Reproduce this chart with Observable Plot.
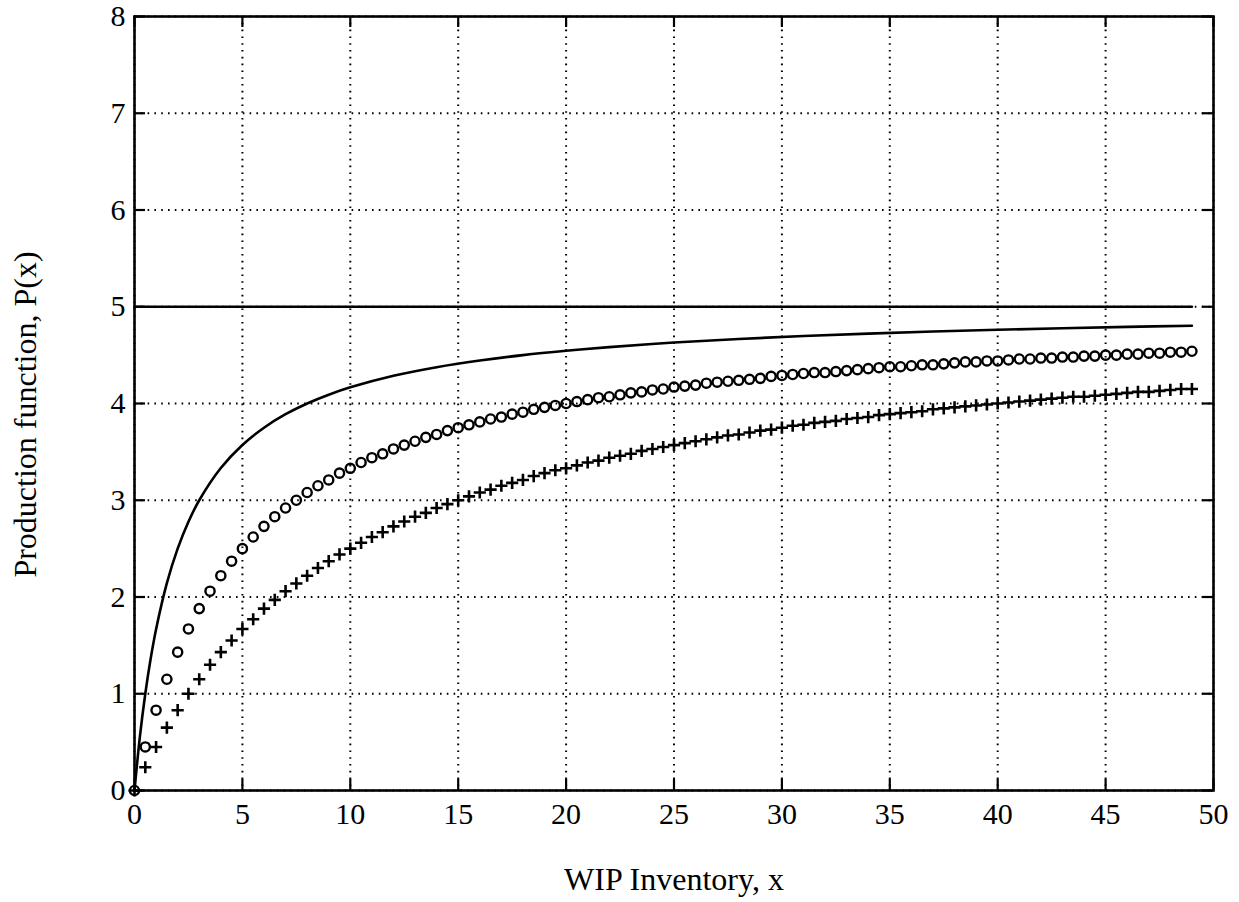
<!DOCTYPE html>
<html>
<head>
<meta charset="utf-8">
<script src="https://cdn.jsdelivr.net/npm/d3@7"></script>
<script src="https://cdn.jsdelivr.net/npm/@observablehq/plot@0.6"></script>
<style>
  html, body { margin: 0; padding: 0; background: #fff; }
</style>
</head>
<body>
<div id="chart"></div>
<script>
// ---- data ----
const xTicks = [0, 5, 10, 15, 20, 25, 30, 35, 40, 45, 50];
const yTicks = [0, 1, 2, 3, 4, 5, 6, 7, 8];

const xLabel = "WIP Inventory, x";
const yLabel = "Production function, P(x)";

// upper bound (horizontal solid line)
const flatX = [0, 49];
const flatY = [5, 5];

// solid curve
const curveX = [0, 0.25, 0.5, 0.75, 1, 1.5, 2, 2.5, 3, 4, 5, 6, 7, 8, 9, 10, 12, 14, 16, 18, 20, 22, 25, 28, 31, 34, 37, 40, 43, 46, 49];
const curveY = [0, 0.556, 1.000, 1.364, 1.667, 2.143, 2.500, 2.778, 3.000, 3.333, 3.571, 3.750, 3.889, 4.000, 4.091, 4.167, 4.286, 4.375, 4.444, 4.500, 4.545, 4.583, 4.630, 4.667, 4.697, 4.722, 4.744, 4.762, 4.778, 4.792, 4.804];

// marker x positions (shared by "o" and "+" series)
const markerX = [
  0, 0.5, 1, 1.5, 2, 2.5, 3, 3.5, 4, 4.5,
  5, 5.5, 6, 6.5, 7, 7.5, 8, 8.5, 9, 9.5,
  10, 10.5, 11, 11.5, 12, 12.5, 13, 13.5, 14, 14.5,
  15, 15.5, 16, 16.5, 17, 17.5, 18, 18.5, 19, 19.5,
  20, 20.5, 21, 21.5, 22, 22.5, 23, 23.5, 24, 24.5,
  25, 25.5, 26, 26.5, 27, 27.5, 28, 28.5, 29, 29.5,
  30, 30.5, 31, 31.5, 32, 32.5, 33, 33.5, 34, 34.5,
  35, 35.5, 36, 36.5, 37, 37.5, 38, 38.5, 39, 39.5,
  40, 40.5, 41, 41.5, 42, 42.5, 43, 43.5, 44, 44.5,
  45, 45.5, 46, 46.5, 47, 47.5, 48, 48.5, 49
];

// "o" series
const circleY = [
  0, 0.45, 0.83, 1.15, 1.43, 1.67, 1.88, 2.06, 2.22, 2.37,
  2.50, 2.62, 2.73, 2.83, 2.92, 3.00, 3.08, 3.15, 3.21, 3.28,
  3.33, 3.39, 3.44, 3.48, 3.53, 3.57, 3.61, 3.65, 3.68, 3.72,
  3.75, 3.78, 3.81, 3.84, 3.86, 3.89, 3.91, 3.94, 3.96, 3.98,
  4.00, 4.02, 4.04, 4.06, 4.07, 4.09, 4.11, 4.12, 4.14, 4.15,
  4.17, 4.18, 4.19, 4.21, 4.22, 4.23, 4.24, 4.25, 4.26, 4.28,
  4.29, 4.30, 4.31, 4.32, 4.32, 4.33, 4.34, 4.35, 4.36, 4.37,
  4.38, 4.38, 4.39, 4.40, 4.40, 4.41, 4.42, 4.43, 4.43, 4.44,
  4.44, 4.45, 4.46, 4.46, 4.47, 4.47, 4.48, 4.48, 4.49, 4.49,
  4.50, 4.50, 4.51, 4.51, 4.52, 4.52, 4.53, 4.53, 4.54
];

// "+" series
const plusY = [
  0, 0.24, 0.45, 0.65, 0.83, 1.00, 1.15, 1.30, 1.43, 1.55,
  1.67, 1.77, 1.88, 1.97, 2.06, 2.14, 2.22, 2.30, 2.37, 2.44,
  2.50, 2.56, 2.62, 2.67, 2.73, 2.78, 2.83, 2.87, 2.92, 2.96,
  3.00, 3.04, 3.08, 3.11, 3.15, 3.18, 3.21, 3.25, 3.28, 3.31,
  3.33, 3.36, 3.39, 3.41, 3.44, 3.46, 3.48, 3.51, 3.53, 3.55,
  3.57, 3.59, 3.61, 3.63, 3.65, 3.67, 3.68, 3.70, 3.72, 3.73,
  3.75, 3.77, 3.78, 3.80, 3.81, 3.82, 3.84, 3.85, 3.86, 3.88,
  3.89, 3.90, 3.91, 3.92, 3.94, 3.95, 3.96, 3.97, 3.98, 3.99,
  4.00, 4.01, 4.02, 4.03, 4.04, 4.05, 4.06, 4.07, 4.07, 4.08,
  4.09, 4.10, 4.11, 4.12, 4.12, 4.13, 4.14, 4.15, 4.15
];

// ---- build tables ----
const flat = flatX.map((x, i) => ({x, y: flatY[i]}));
const curve = curveX.map((x, i) => ({x, y: curveY[i]}));
const circles = markerX.map((x, i) => ({x, y: circleY[i]}));
const pluses = markerX.map((x, i) => ({x, y: plusY[i]}));

const W = 1239, H = 902;
const mL = 134, mR = 26, mT = 16, mB = 112;
const fw = W - mL - mR, fh = H - mT - mB;
const tickLen = 11;

const chart = Plot.plot({
  width: W,
  height: H,
  marginLeft: mL,
  marginRight: mR,
  marginTop: mT,
  marginBottom: mB,
  style: {fontFamily: "'Liberation Serif', 'Times New Roman', serif", fontSize: "30px", color: "#000", background: "#fff"},
  x: {domain: [0, 50]},
  y: {domain: [0, 8]},
  marks: [
    Plot.gridX(xTicks, {stroke: "#000", strokeOpacity: 1, strokeWidth: 2, strokeDasharray: "1.6,5.2"}),
    Plot.gridY(yTicks, {stroke: "#000", strokeOpacity: 1, strokeWidth: 2, strokeDasharray: "1.6,5.2"}),
    // inward ticks on all four sides
    Plot.tickY(yTicks, {y: d => d, stroke: "#000", strokeWidth: 2.2, insetRight: fw - tickLen}),
    Plot.tickY(yTicks, {y: d => d, stroke: "#000", strokeWidth: 2.2, insetLeft: fw - tickLen}),
    Plot.tickX(xTicks, {x: d => d, stroke: "#000", strokeWidth: 2.2, insetTop: fh - tickLen}),
    Plot.tickX(xTicks, {x: d => d, stroke: "#000", strokeWidth: 2.2, insetBottom: fh - tickLen}),
    Plot.axisX({ticks: xTicks, tickSize: 0, tickPadding: 12, label: null, tickFormat: d => String(d)}),
    Plot.axisY({ticks: yTicks, tickSize: 0, tickPadding: 9, label: null, tickFormat: d => String(d)}),
    Plot.frame({stroke: "#000", strokeWidth: 2.6}),
    Plot.line(flat, {x: "x", y: "y", stroke: "#000", strokeWidth: 2.6}),
    Plot.line(curve, {x: "x", y: "y", stroke: "#000", strokeWidth: 2.6, curve: "catmull-rom"}),
    Plot.dot(circles, {x: "x", y: "y", r: 4.6, symbol: "circle", stroke: "#000", strokeWidth: 2.4, fill: "none"}),
    Plot.dot(pluses, {x: "x", y: "y", r: 4.0, symbol: "plus", stroke: "#000", strokeWidth: 2.6}),
    Plot.text([xLabel], {text: d => d, frameAnchor: "bottom", dy: 89, fontSize: 32, textAnchor: "middle", lineAnchor: "middle"}),
    Plot.text([yLabel], {text: d => d, frameAnchor: "left", dx: -109, dy: 11, rotate: -90, fontSize: 32, textAnchor: "middle", lineAnchor: "middle"})
  ]
});

document.getElementById("chart").appendChild(chart);
</script>
</body>
</html>
